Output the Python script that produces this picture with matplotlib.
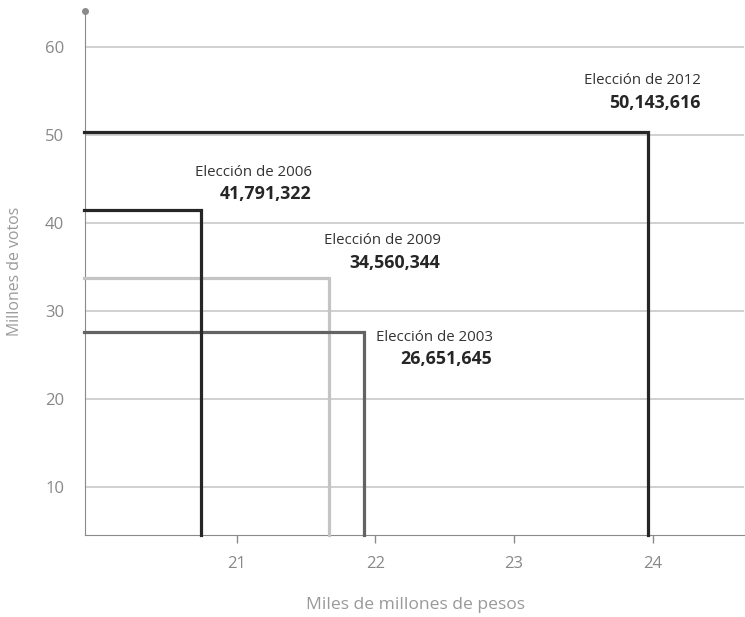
import matplotlib
matplotlib.use("Agg")
from matplotlib import pyplot as plt

# datos (gasto vs votos)
anios = ["2009", "2003", "2006", "2012"]
gasto = [21.665, 21.916, 20.74, 23.97]        # miles de millones de pesos
votos = [33.7, 27.6, 41.5, 50.3]              # millones de votos
etiquetas = ["34,560,344", "26,651,645", "41,791,322", "50,143,616"]
colores = ["#c4c4c4", "#636363", "#262626", "#262626"]

# posicion de los textos (esquina derecha del bloque)
texto_x = [22.47, 22.845, 21.54, 24.35]
texto_y = [38.0, 27.05, 45.8, 56.25]

xticks = [21, 22, 23, 24]
yticks = [10, 20, 30, 40, 50, 60]
xmin, xmax = 19.904, 24.66
ymin, ymax = 4.55, 64.1

plt.rcParams['font.family'] = ['Open Sans', 'DejaVu Sans']

fig = plt.figure(figsize=(7.45, 6.17), dpi=100)
ax = fig.add_axes([85 / 745, 1 - 535 / 617, 659 / 745, 524 / 617])
ax.set_xlim(xmin, xmax)
ax.set_ylim(ymin, ymax)

for yv in yticks:
    ax.axhline(yv, color="#c8c8c8", lw=1.2, zorder=1)

for i in range(len(anios)):
    ax.plot([xmin - 0.01, gasto[i], gasto[i]], [votos[i], votos[i], ymin],
            color=colores[i], lw=2.3, solid_joinstyle='miter', zorder=3 + i,
            clip_on=False)
    ax.text(texto_x[i], texto_y[i], "Elección de " + anios[i], ha='right', va='center',
            fontsize=10.8, color="#333333")
    ax.text(texto_x[i], texto_y[i] - 2.55, etiquetas[i], ha='right', va='center',
            fontsize=12.8, fontweight='bold', color="#262626")

for s in ['top', 'right']:
    ax.spines[s].set_visible(False)
ax.spines['left'].set_color("#8a8a8a")
ax.spines['bottom'].set_color("#8a8a8a")
ax.spines['left'].set_zorder(2)
ax.plot([xmin], [ymax], 'o', color="#8a8a8a", ms=4, clip_on=False, zorder=10)

ax.set_xticks(xticks)
ax.set_yticks(yticks)
ax.tick_params(axis='x', colors="#8a8a8a", length=6, width=1, labelsize=12, pad=9,
               labelcolor="#888888")
ax.tick_params(axis='y', length=0, labelsize=12, pad=15, labelcolor="#888888")

fig.text(415 / 745, 1 - 605 / 617, "Miles de millones de pesos", ha='center', va='center',
         fontsize=12.6, color="#999999")
fig.text(15 / 745, 1 - 271 / 617, "Millones de votos", ha='center', va='center',
         rotation=90, fontsize=11.4, color="#999999")

fig.savefig("out.png", dpi=100)
